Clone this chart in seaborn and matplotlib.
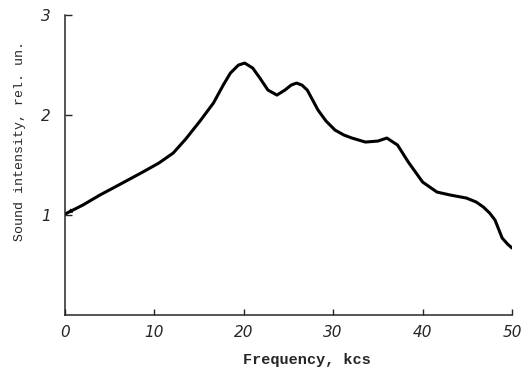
import matplotlib
matplotlib.use("Agg")
import matplotlib.pyplot as plt
import seaborn as sns
import pandas as pd

freq = [0, 2, 3.9, 6, 8.7, 10.5, 12.1, 13.5, 15.1, 16.6, 17.7, 18.5, 19.4, 20.1,
        21.0, 21.8, 22.7, 23.7, 24.6, 25.3, 25.9, 26.5, 27.1, 28.3, 29.2, 30.2,
        31.2, 32.1, 33.6, 35.0, 36.0, 37.2, 38.4, 40.0, 41.6, 43.1, 44.9, 46.0,
        46.8, 47.5, 48.1, 48.5, 48.9, 49.5, 50.0]
intensity = [1.01, 1.10, 1.20, 1.30, 1.43, 1.52, 1.62, 1.76, 1.94, 2.12, 2.30,
             2.42, 2.50, 2.52, 2.47, 2.37, 2.25, 2.20, 2.25, 2.30, 2.32, 2.30,
             2.25, 2.05, 1.94, 1.85, 1.80, 1.77, 1.73, 1.74, 1.77, 1.70, 1.53,
             1.33, 1.23, 1.20, 1.17, 1.13, 1.08, 1.02, 0.95, 0.86, 0.77, 0.71, 0.67]
x_ticks = [0, 10, 20, 30, 40, 50]
y_ticks = [1, 2, 3]
x_label = "Frequency, kcs"
y_label = "Sound intensity, rel. un."

df = pd.DataFrame({"f": freq, "s": intensity})

sns.set_style("ticks")
fig = plt.figure(figsize=(5.21, 3.68), dpi=100)
ax = fig.add_axes([0.1248, 0.144, 0.8579, 0.815])

sns.lineplot(data=df, x="f", y="s", ax=ax, color="black", linewidth=2.2,
             sort=False)
for ln in ax.get_lines():
    ln.set_solid_joinstyle("round")
    ln.set_solid_capstyle("round")

# small arrowhead at curve start
ax.annotate("", xy=(freq[0], intensity[0]), xytext=(freq[1], intensity[1]),
            arrowprops=dict(arrowstyle="-|>", color="black", lw=0,
                            mutation_scale=9))

ax.set_xlim(0, 50)
ax.set_ylim(0, 3)
ax.set_xticks(x_ticks)
ax.set_yticks(y_ticks)
ax.set_xticklabels([str(t) for t in x_ticks], fontstyle="italic", fontsize=11,
                   family="DejaVu Sans")
ax.set_yticklabels([str(t) for t in y_ticks], fontstyle="italic", fontsize=11,
                   family="DejaVu Sans")
ax.tick_params(axis="x", direction="in", length=4, width=1, pad=7)
ax.tick_params(axis="y", direction="in", length=5, width=1, pad=10)
for side in ["top", "right"]:
    ax.spines[side].set_visible(False)
for side in ["left", "bottom"]:
    ax.spines[side].set_linewidth(1.1)

ax.set_xlabel(x_label, family="Liberation Mono", fontweight="bold",
              fontsize=11)
ax.set_ylabel(y_label, family="Liberation Mono", fontsize=9.5)
ax.yaxis.set_label_coords(-0.088, 0.58)
ax.xaxis.set_label_coords(0.54, -0.128)

fig.savefig("out.png", dpi=100)
